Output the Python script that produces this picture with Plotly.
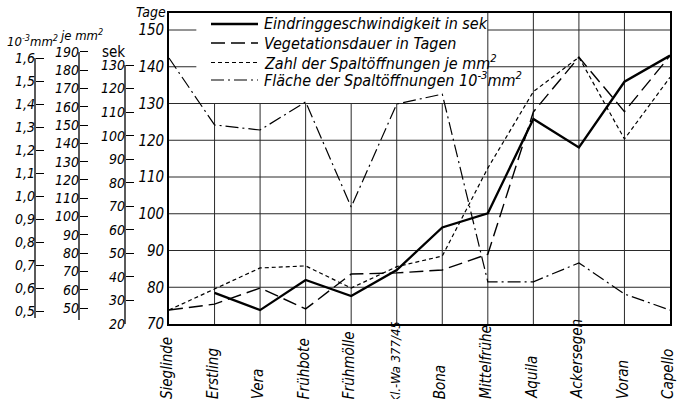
import plotly.graph_objects as go

# ---------------- data ----------------
categories = ["Sieglinde", "Erstling", "Vera", "Frühbote", "Frühmölle", "Kl.-Wa 377/45",
              "Bona", "Mittelfrühe", "Aquila", "Ackersegen", "Voran", "Capello"]

# Eindringgeschwindigkeit in sek (solid)
eindring_sek = [None, 33.2, 25.9, 38.7, 31.9, 42.9, 61.0, 67.0, 107.1, 95.0, 122.9, 134.0]
# Vegetationsdauer in Tagen (long dash)
vegetation_tage = [73.8, 75.4, 79.8, 74.1, 83.6, 83.9, 84.7, 89.0, 127.7, 142.6, 127.8, 143.0]
# Zahl der Spaltöffnungen je mm² (short dash)
zahl_je_mm2 = [48.9, 60.4, 71.9, 73.0, 60.9, 72.6, 78.4, 126.5, 168.3, 187.1, 142.4, 176.1]
# Fläche der Spaltöffnungen 10^-3 mm² (dash-dot)
flaeche_mm2 = [1.600, 1.309, 1.287, 1.409, 0.952, 1.400, 1.443, 0.627, 0.627, 0.709, 0.574, 0.504]

series_names = ["Eindringgeschwindigkeit in sek",
                "Vegetationsdauer in Tagen",
                "Zahl der Spaltöffnungen je mm<sup>2</sup>",
                "Fläche der Spaltöffnungen 10<sup>-3</sup>mm<sup>2</sup>"]

tage_ticks = [70, 80, 90, 100, 110, 120, 130, 140, 150]
sek_ticks = [20, 30, 40, 50, 60, 70, 80, 90, 100, 110, 120, 130]
je_ticks = [50, 60, 70, 80, 90, 100, 110, 120, 130, 140, 150, 160, 170, 180, 190]
mm2_ticks = [0.5, 0.6, 0.7, 0.8, 0.9, 1.0, 1.1, 1.2, 1.3, 1.4, 1.5, 1.6]
mm2_ticktext = ["0,5", "0,6", "0,7", "0,8", "0,9", "1,0", "1,1", "1,2", "1,3", "1,4", "1,5", "1,6"]

# ---------------- layout helpers ----------------
W, H = 689, 399
ML, MR, MT, MB = 20, 19, 13, 75
PW, PH = W - ML - MR, H - MT - MB


def px_x(x):
    return (x - ML) / PW


def px_y(y):
    return (H - MB - y) / PH


FONT = "Liberation Sans Narrow, DejaVu Sans Condensed, Arial Narrow, sans-serif"
ital = lambda s: dict(family=FONT, size=s, color="black", style="italic")

TAGE_RANGE = [70, 154.63]
SEK_RANGE = [19.99, 152.09]
JE_RANGE = [41.25, 211.29]
MM2_RANGE = [0.4435, 1.7957]

fig = go.Figure()

fig.add_trace(go.Scatter(x=categories, y=eindring_sek, yaxis="y2", mode="lines",
                         name=series_names[0], line=dict(color="black", width=2.3)))
fig.add_trace(go.Scatter(x=categories, y=vegetation_tage, yaxis="y", mode="lines",
                         name=series_names[1], line=dict(color="black", width=1.4, dash="14px,6px")))
fig.add_trace(go.Scatter(x=categories, y=zahl_je_mm2, yaxis="y3", mode="lines",
                         name=series_names[2], line=dict(color="black", width=1.2, dash="4px,3px")))
fig.add_trace(go.Scatter(x=categories, y=flaeche_mm2, yaxis="y4", mode="lines",
                         name=series_names[3], line=dict(color="black", width=1.2, dash="13px,4px,2px,4px")))

shapes = []
GRID = dict(color="#2a2a2a", width=1)
n = len(categories)
# vertical grid lines
for i in range(1, n - 1):
    if i < 7:
        shapes.append(dict(type="line", xref="x", yref="y", x0=i, x1=i, y0=70, y1=130, line=GRID, layer="below"))
    else:
        shapes.append(dict(type="line", xref="x", yref="paper", x0=i, x1=i, y0=0, y1=1, line=GRID, layer="below"))
# horizontal grid lines
for v in tage_ticks[1:]:
    if v <= 130:
        shapes.append(dict(type="line", xref="x", yref="y", x0=0, x1=n - 1, y0=v, y1=v, line=GRID, layer="below"))
    else:
        shapes.append(dict(type="line", xref="x", yref="y", x0=7, x1=n - 1, y0=v, y1=v, line=GRID, layer="below"))
        shapes.append(dict(type="line", xref="x", yref="y", x0=0, x1=0.6, y0=v, y1=v, line=GRID, layer="below"))

# free axis lines
AX = dict(color="black", width=1.3)
shapes.append(dict(type="line", xref="paper", yref="y2", x0=px_x(125), x1=px_x(125), y0=20, y1=130, line=AX))
shapes.append(dict(type="line", xref="paper", yref="y3", x0=px_x(79), x1=px_x(79), y0=43.4, y1=190, line=AX))
shapes.append(dict(type="line", xref="paper", yref="y4", x0=px_x(35), x1=px_x(35), y0=0.47, y1=1.6, line=AX))

# manual legend
legend_rows = [24, 43, 62.5, 80]
legend_dash = ["solid", "14px,6px", "4px,3px", "13px,4px,2px,4px"]
legend_width = [2.3, 1.4, 1.2, 1.2]
annotations = []
for name, yy, d, w in zip(series_names, legend_rows, legend_dash, legend_width):
    shapes.append(dict(type="line", xref="paper", yref="paper", x0=px_x(211), x1=px_x(258),
                       y0=px_y(yy), y1=px_y(yy), line=dict(color="black", width=w, dash=d)))
    annotations.append(dict(text=name, xref="paper", yref="paper", x=px_x(262), y=px_y(yy),
                            xanchor="left", yanchor="middle", showarrow=False, font=ital(16)))

# category labels (rotated, bottom aligned)
for c in categories:
    long_label = len(c) > 12
    annotations.append(dict(text=c, xref="x", yref="paper", x=c, y=px_y(405 if long_label else 401),
                            textangle=-90, xanchor="center", yanchor="bottom", xshift=-2,
                            showarrow=False, font=ital(13 if long_label else 15)))

# axis titles
annotations.append(dict(text="10<sup>-3</sup>mm<sup>2</sup>", xref="paper", yref="paper", x=px_x(32), y=px_y(41),
                        xanchor="center", yanchor="middle", showarrow=False, font=ital(13)))
annotations.append(dict(text="je mm<sup>2</sup>", xref="paper", yref="paper", x=px_x(81), y=px_y(35),
                        xanchor="center", yanchor="middle", showarrow=False, font=ital(13)))
annotations.append(dict(text="sek", xref="paper", yref="paper", x=px_x(113), y=px_y(52),
                        xanchor="center", yanchor="middle", showarrow=False,
                        font=dict(family=FONT, size=15, color="black")))
annotations.append(dict(text="Tage", xref="paper", yref="paper", x=px_x(151), y=px_y(12),
                        xanchor="center", yanchor="middle", showarrow=False, font=ital(14)))

free_axis = dict(overlaying="y", anchor="free", side="left", showline=False, showgrid=False,
                 zeroline=False, ticks="inside", ticklen=8, tickwidth=1.2, tickcolor="black",
                 tickfont=ital(14), fixedrange=True)

fig.update_layout(
    width=W, height=H,
    margin=dict(l=ML, r=MR, t=MT, b=MB, pad=0),
    paper_bgcolor="white", plot_bgcolor="white",
    showlegend=False,
    xaxis=dict(domain=[px_x(169), 1], type="category", range=[0, n - 1], showticklabels=False,
               showgrid=False, zeroline=False, showline=True, mirror=True, linecolor="black",
               linewidth=1.6, ticks=""),
    yaxis=dict(range=TAGE_RANGE, tickvals=tage_ticks, ticktext=[str(v) for v in tage_ticks],
               showgrid=False, zeroline=False, showline=True, mirror=True, linecolor="black",
               linewidth=1.6, ticks="", tickfont=ital(15)),
    yaxis2=dict(free_axis, position=px_x(125), range=SEK_RANGE, tickvals=sek_ticks,
                ticktext=[str(v) for v in sek_ticks]),
    yaxis3=dict(free_axis, position=px_x(79), range=JE_RANGE, tickvals=je_ticks,
                ticktext=[str(v) for v in je_ticks]),
    yaxis4=dict(free_axis, position=px_x(35), range=MM2_RANGE, tickvals=mm2_ticks,
                ticktext=mm2_ticktext),
    shapes=shapes,
    annotations=annotations,
)

fig.write_html("out.html", config={"displayModeBar": False},
               post_script="document.body.style.margin='0';document.body.style.overflow='hidden';")
